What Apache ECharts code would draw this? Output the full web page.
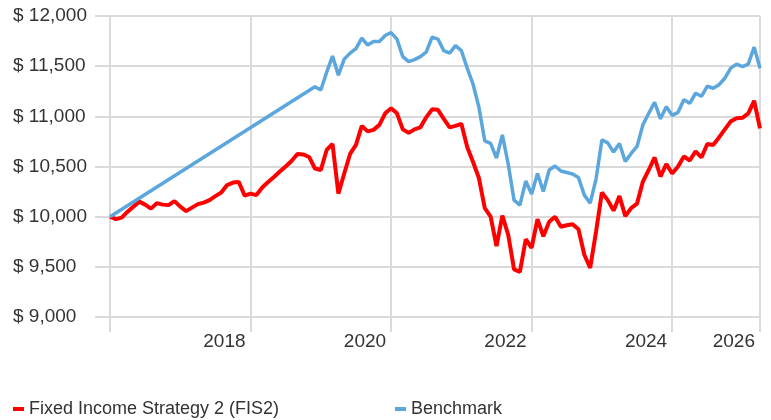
<!DOCTYPE html>
<html>
<head>
	<meta charset="utf-8">
	<title>FIS2 vs Benchmark</title>
	<script src="https://cdn.jsdelivr.net/npm/echarts@6/dist/echarts.min.js"></script>
	<style>
		html, body { margin: 0; padding: 0; background: #fff; }
		#main { width: 771px; height: 420px; }
	</style>
</head>
<body>
	<div id="main"></div>
	<script type="text/javascript">
		// monthly growth of $10,000, index 0 = first month
		var fisName = 'Fixed Income Strategy 2 (FIS2)';
		var benchName = 'Benchmark';
		var fisValues = [
			10000, 9975, 9990, 10050, 10100, 10150, 10120, 10080, 10135, 10120,
			10115, 10155, 10100, 10055, 10090, 10125, 10140, 10165, 10205, 10240,
			10315, 10340, 10345, 10210, 10230, 10215, 10290, 10345, 10395, 10450,
			10500, 10555, 10625, 10620, 10595, 10480, 10465, 10665, 10725, 10230,
			10430, 10625, 10715, 10905, 10850, 10865, 10915, 11030, 11080, 11030,
			10870, 10835, 10870, 10890, 10990, 11070, 11065, 10975, 10890, 10905,
			10925, 10695, 10545, 10385, 10085, 10000, 9707, 10010, 9820, 9475,
			9450, 9775, 9690, 9975, 9805, 9950, 10000, 9900, 9915, 9925,
			9875, 9620, 9490, 9850, 10240, 10165, 10060, 10205, 10005, 10085,
			10130, 10350, 10465, 10590, 10400, 10525, 10430, 10500, 10600, 10560,
			10650, 10590, 10725, 10715, 10790, 10870, 10950, 10980, 10985, 11030,
			11155, 10880
		];
		// benchmark has no monthly values before month 35 (drawn as a straight line)
		var benchValues = [
			10000, null, null, null, null, null, null, null, null, null,
			null, null, null, null, null, null, null, null, null, null,
			null, null, null, null, null, null, null, null, null, null,
			null, null, null, null, null, 11295, 11262, 11440, 11600, 11410,
			11570, 11630, 11675, 11780, 11710, 11745, 11745, 11805, 11835, 11770,
			11595, 11545, 11565, 11595, 11640, 11790, 11770, 11655, 11630, 11705,
			11655, 11480, 11320, 11090, 10755, 10730, 10585, 10815, 10525, 10165,
			10115, 10355, 10225, 10430, 10250, 10465, 10505, 10455, 10440, 10425,
			10390, 10215, 10135, 10375, 10765, 10735, 10645, 10730, 10550, 10630,
			10700, 10915, 11030, 11140, 10975, 11095, 11010, 11040, 11165, 11130,
			11230, 11200, 11300, 11280, 11315, 11380, 11480, 11520, 11495, 11520,
			11690, 11480
		];
		// x tick labels keyed by month index
		var xTickLabels = { 24: '2018', 48: '2020', 72: '2022', 96: '2024', 111: '2026' };

		var gridColor = '#dadada';
		var textColor = '#333333';
		var font = 'Liberation Sans, Arial, sans-serif';

		function toPairs(arr) {
			return arr.map(function (v, i) { return [i, v]; });
		}

		var myChart = echarts.init(document.getElementById('main'));
		myChart.setOption({
			animation: false,
			grid: { left: 110, right: 11, top: 16, bottom: 103 },
			legend: [{
				left: 13, top: 400, padding: 0,
				icon: 'rect', itemWidth: 11, itemHeight: 4,
				textStyle: { fontFamily: font, fontSize: 18, color: textColor },
				data: [fisName]
			}, {
				left: 395, top: 400, padding: 0,
				icon: 'rect', itemWidth: 11, itemHeight: 4,
				textStyle: { fontFamily: font, fontSize: 18, color: textColor },
				data: [benchName]
			}],
			xAxis: {
				type: 'value',
				min: 0,
				max: 111,
				interval: 24,
				axisLine: { show: false },
				axisTick: { show: true, length: 15, lineStyle: { color: gridColor, width: 2 } },
				splitLine: { show: true, lineStyle: { color: gridColor, width: 2 } },
				axisLabel: {
					margin: 15,
					align: 'right',
					padding: [0, 5, 0, 0],
					fontFamily: font, fontSize: 19, color: textColor,
					formatter: function (v) { return xTickLabels[v] || ''; }
				}
			},
			yAxis: {
				type: 'value',
				min: 9000,
				max: 12000,
				interval: 500,
				axisLine: { show: false },
				axisTick: { show: true, length: 15, lineStyle: { color: gridColor, width: 2 } },
				splitLine: { show: true, lineStyle: { color: gridColor, width: 2 } },
				axisLabel: {
					margin: 97,
					align: 'left',
					fontFamily: font, fontSize: 19, color: textColor,
					formatter: function (v) {
						return '$ ' + String(v).replace(/\B(?=(\d{3})+(?!\d))/g, ',');
					}
				}
			},
			series: [{
				name: fisName,
				type: 'line',
				data: toPairs(fisValues),
				showSymbol: false,
				symbol: 'none',
				itemStyle: { color: '#ff0000' },
				lineStyle: { color: '#ff0000', width: 4 }
			}, {
				name: benchName,
				type: 'line',
				data: toPairs(benchValues),
				connectNulls: true,
				showSymbol: false,
				symbol: 'none',
				itemStyle: { color: '#5ba7dd' },
				lineStyle: { color: '#5ba7dd', width: 3.5 }
			}]
		});
	</script>
</body>
</html>
